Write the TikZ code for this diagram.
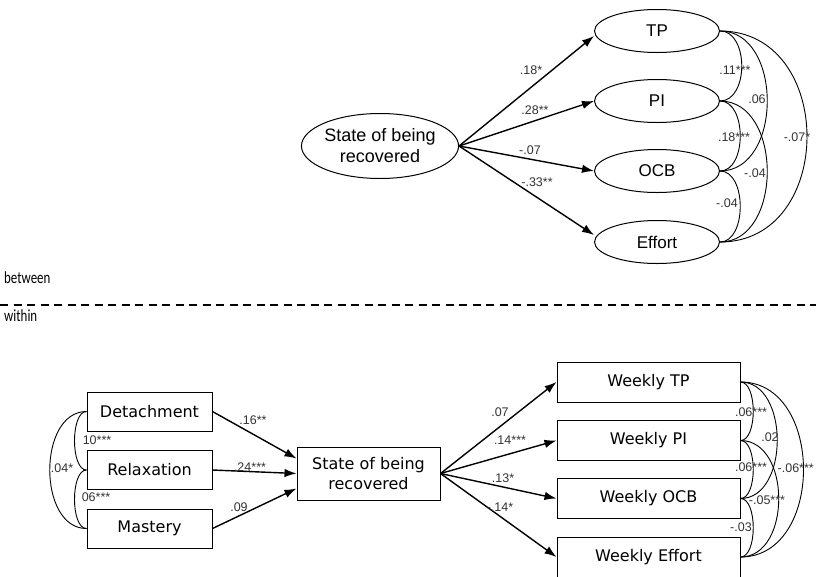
\documentclass[tikz,border=0pt]{standalone}
\usepackage{fontspec}
\setmainfont{Liberation Sans}
\newfontfamily\boxfont{DejaVu Sans}
\newfontfamily\sidefont[FakeStretch=0.76]{Carlito}
\usetikzlibrary{shapes.geometric,arrows.meta}

\begin{document}
\begin{tikzpicture}[x=1pt,y=-1pt,
    latent/.style={draw,ellipse,line width=1pt,minimum width=125pt,minimum height=43pt,
      inner sep=0pt,align=center,font=\fontsize{17}{20}\selectfont},
    obs/.style={draw,rectangle,line width=1pt,minimum width=183pt,minimum height=40pt,
      inner sep=0pt,align=center,font=\boxfont\fontsize{16}{20}\selectfont},
    effect/.style={-{Latex[length=12pt,width=8.5pt]},line width=1.4pt},
    covar/.style={line width=0.9pt},
    coef/.style={font=\fontsize{12.5}{14}\selectfont,inner sep=1pt,text=black!80},
    side/.style={font=\sidefont\fontsize{17}{19}\selectfont,anchor=west,inner sep=0pt}]
  \useasboundingbox (0,0) rectangle (816,576);

  % between level
  \node[latent,minimum width=155pt,minimum height=65pt,font=\fontsize{18}{21}\selectfont] (rec) at (380,146) {State of being\\recovered};
  \node[latent] (tp) at (657,31) {TP};
  \node[latent] (pi) at (657,101) {PI};
  \node[latent] (ocb) at (657,171) {OCB};
  \node[latent] (eff) at (657,242) {Effort};

  \draw[effect] (rec.east) -- ([yshift=-5pt]tp.west);
  \draw[effect] (rec.east) -- (pi.west);
  \draw[effect] (rec.east) -- (ocb.west);
  \draw[effect] (rec.east) -- ([yshift=7pt]eff.west);
  \foreach \a/\b/\c in {tp/pi/29,pi/ocb/27,ocb/eff/27,tp/ocb/63,pi/eff/63,tp/eff/116}
    \draw[covar] (\a.east) .. controls +(\c,0) and +(\c,0) .. (\b.east);

  \node[coef] (b1) at (531,70) {.18*};
  \node[coef] (b2) at (535,110) {.28**};
  \node[coef] (b3) at (530,150) {-.07};
  \node[coef] (b4) at (537,182) {-.33**};
  \node[coef] (c1) at (735,70) {.11***};
  \node[coef] (c2) at (757,99) {.06};
  \node[coef] (c3) at (734,137) {.18***};
  \node[coef] (c4) at (755,173) {-.04};
  \node[coef] (c5) at (727,203) {-.04};
  \node[coef] (c6) at (797,137) {-.07*};

  \node[side] (btw) at (4,278) {between};
  \draw[line width=1.8pt,dash pattern=on 8pt off 5.5pt] (0,305) -- (816,305);
  \node[side] (wth) at (4,316) {within};

  % within level
  \node[obs,minimum width=125pt,minimum height=39pt] (det) at (149.5,411.5) {Detachment};
  \node[obs,minimum width=125pt,minimum height=39pt] (rel) at (149.5,470) {Relaxation};
  \node[obs,minimum width=125pt,minimum height=39pt] (mas) at (149.5,528.5) {Mastery};
  \node[obs,minimum width=143pt,minimum height=53pt] (srec) at (368.5,473.5) {State of being\\recovered};
  \node[obs] (wtp) at (648.5,382) {Weekly TP};
  \node[obs] (wpi) at (648.5,440.5) {Weekly PI};
  \node[obs] (wocb) at (648.5,498.5) {Weekly OCB};
  \node[obs] (weff) at (648.5,557) {Weekly Effort};

  \draw[effect] (det.east) -- ([yshift=15pt]srec.west);
  \draw[effect] (rel.east) -- (srec.west);
  \draw[effect] (mas.east) -- ([yshift=-15pt]srec.west);
  \foreach \w in {wtp,wpi,wocb,weff}
    \draw[effect] (srec.east) -- (\w.west);
  \foreach \a/\b/\c in {det/rel/-16,rel/mas/-16,det/mas/-49}
    \draw[covar] (\a.west) .. controls +(\c,0) and +(\c,0) .. (\b.west);
  \foreach \a/\b/\c in {wtp/wpi/17,wpi/wocb/17,wocb/weff/17,wtp/wocb/49,wpi/weff/51,wtp/weff/84}
    \draw[covar] (\a.east) .. controls +(\c,0) and +(\c,0) .. (\b.east);

  \node[coef] (p1) at (253,420) {.16**};
  \node[coef] (p2) at (250,467) {.24***};
  \node[coef] (p3) at (239,507) {.09};
  \node[coef] (p4) at (500,412) {.07};
  \node[coef] (p5) at (510,440) {.14***};
  \node[coef] (p6) at (503,478) {.13*};
  \node[coef] (p7) at (500,507) {-.14*};
  \node[coef] (r1) at (97,440) {10***};
  \node[coef] (r2) at (62,468) {.04*};
  \node[coef] (r3) at (96,497) {06***};
  \node[coef] (w1) at (751,412) {.06***};
  \node[coef] (w2) at (770,437) {.02};
  \node[coef] (w3) at (751,467) {.06***};
  \node[coef,anchor=east] (w4) at (815,468) {-.06***};
  \node[coef] (w5) at (767,500) {-.05***};
  \node[coef] (w6) at (741,527) {-.03};
\end{tikzpicture}
\end{document}
